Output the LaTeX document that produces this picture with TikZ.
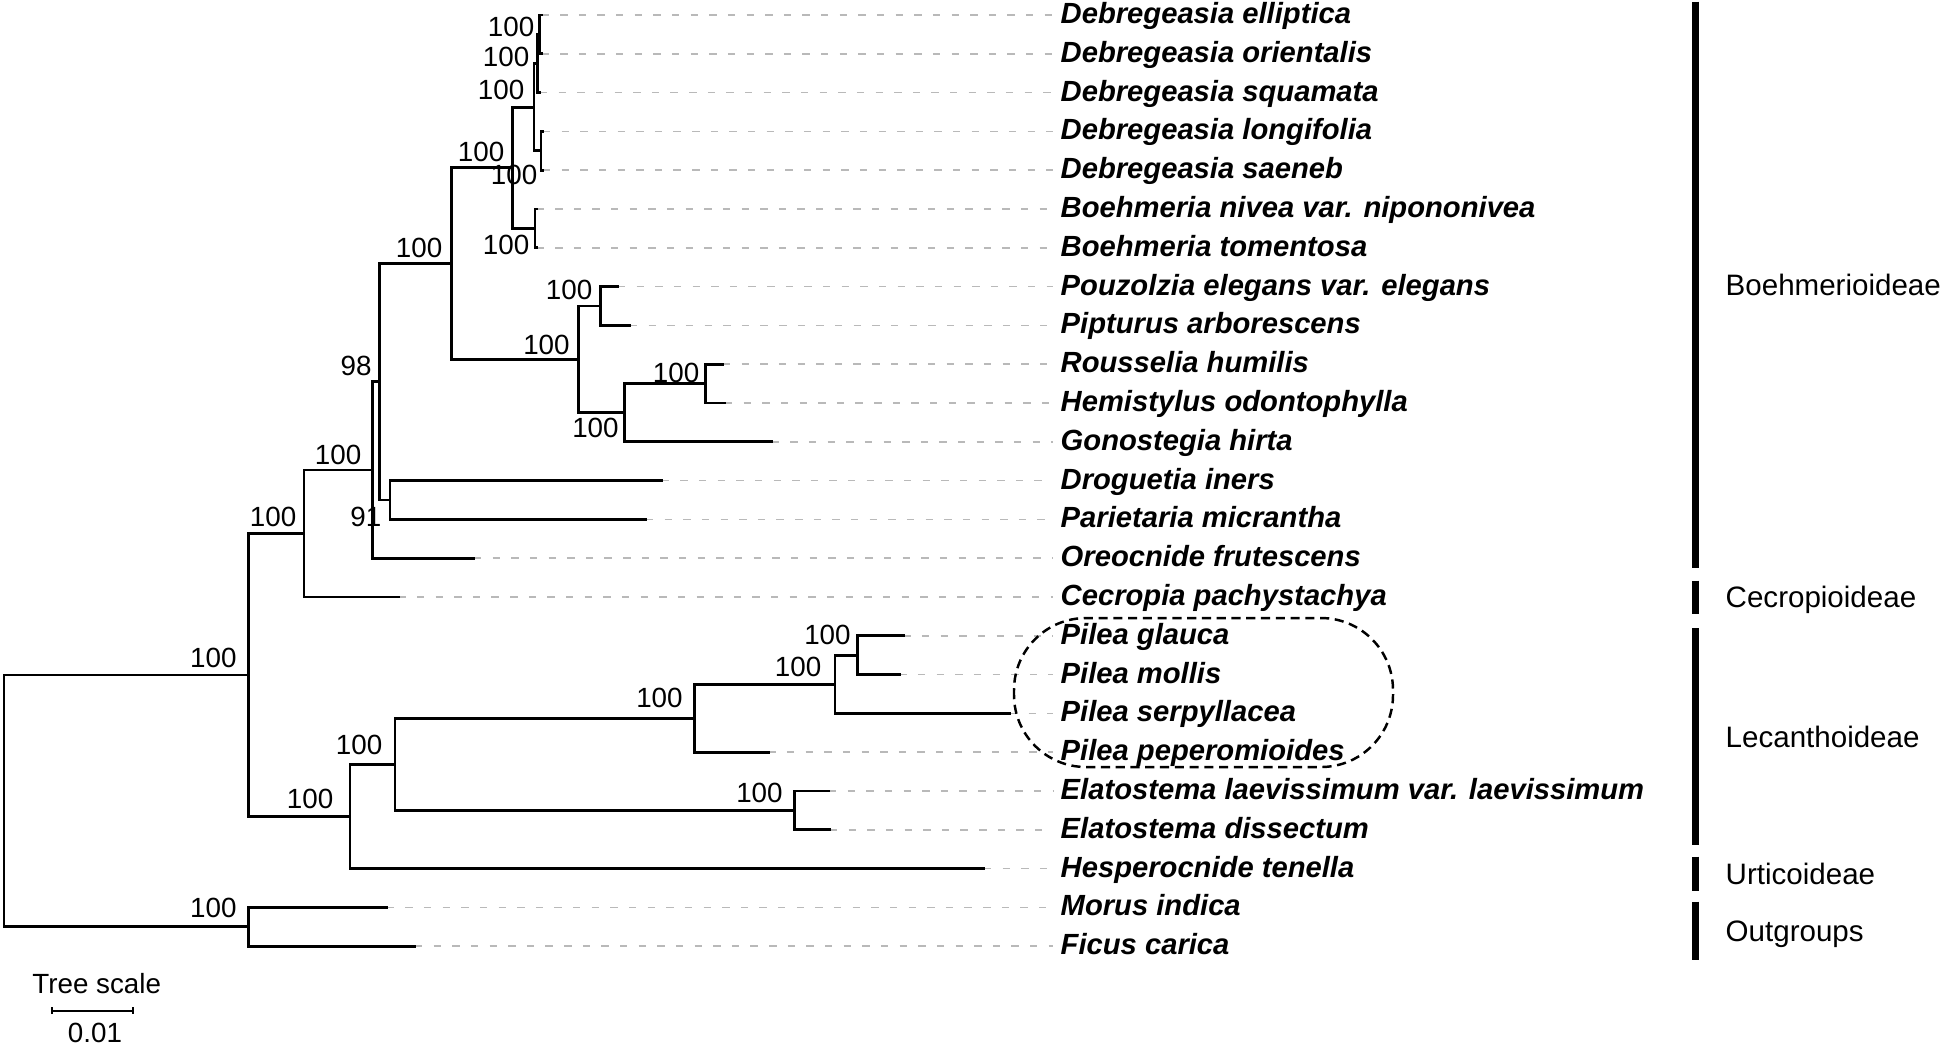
\documentclass[tikz,border=0pt]{standalone}
\usepackage{fontspec}
\setmainfont{Liberation Sans}
\usetikzlibrary{arrows.meta, calc}

\tikzset{
    branch/.style={line width=0.8pt, line cap=rect},
    guide/.style={draw=gray!55, line width=0.45pt, dash pattern=on 2.1pt off 3.2pt},
    taxon/.style={anchor=base west, inner sep=0pt, yshift=-2.4pt,
        font=\fontsize{8.3}{9}\selectfont\bfseries\itshape},
    boot/.style={anchor=east, inner sep=0pt, font=\fontsize{7.9}{9}\selectfont},
    groupbar/.style={line width=0.07cm},
    grouplabel/.style={anchor=base west, inner sep=0pt, yshift=-3pt,
        font=\fontsize{8.4}{10}\selectfont},
    pilearing/.style={line width=0.7pt, dash pattern=on 2.6pt off 1.6pt, rounded corners=0.72cm},
    scaletext/.style={inner sep=0pt, font=\fontsize{7.9}{9}\selectfont}
}

% internal node: name, x, first child, second child
\newcommand{\clade}[4]{%
    \coordinate (#1m) at ($(#3)!.5!(#4)$);
    \coordinate (#1) at (#2,0 |- #1m);
    \draw[branch] (#3) -| (#1) |- (#4);
}

\begin{document}
\begin{tikzpicture}[x=0.01cm, y=-0.01cm]
    \useasboundingbox (0,0) rectangle (1946,1047);

    % leaves
    \foreach \id/\tip/\txt [count=\i from 0] in {
        ell/541.5/Debregeasia elliptica,
        ori/541.5/Debregeasia orientalis,
        squ/540/Debregeasia squamata,
        lon/543/Debregeasia longifolia,
        sae/543/Debregeasia saeneb,
        niv/536.5/Boehmeria nivea var. nipononivea,
        tom/536.5/Boehmeria tomentosa,
        pou/618/Pouzolzia elegans var. elegans,
        pip/630/Pipturus arborescens,
        rou/723/Rousselia humilis,
        hem/725/Hemistylus odontophylla,
        gon/771.7/Gonostegia hirta,
        dro/661.7/Droguetia iners,
        par/646/Parietaria micrantha,
        ore/474/Oreocnide frutescens,
        cec/398.3/Cecropia pachystachya,
        gla/903.3/Pilea glauca,
        mol/899.3/Pilea mollis,
        ser/1010/Pilea serpyllacea,
        pep/768.3/Pilea peperomioides,
        ela/829/Elatostema laevissimum var. laevissimum,
        dis/830/Elatostema dissectum,
        hes/984/Hesperocnide tenella,
        mor/386.7/Morus indica,
        fic/415/Ficus carica}
    {
        \pgfmathsetmacro\yy{15+38.8*\i}
        \coordinate (\id) at (\tip,\yy);
        \coordinate (\id-e) at (1053,\yy);
        \node[taxon] (\id-t) at (1060,\yy) {\txt};
        \draw[guide] (\id) -- (\id-e);
    }

    % tree
    \clade{n1}{539.5}{ell}{ori}
    \clade{n2}{537.5}{n1}{squ}
    \clade{n3}{541}{lon}{sae}
    \clade{n4}{534}{n2}{n3}
    \clade{n5}{535}{niv}{tom}
    \clade{n6}{512.7}{n4}{n5}
    \clade{n7}{600.7}{pou}{pip}
    \clade{n8}{705.7}{rou}{hem}
    \clade{n9}{624.3}{n8}{gon}
    \clade{n10}{578.3}{n7}{n9}
    \clade{n11}{451.7}{n6}{n10}
    \clade{n12}{390}{dro}{par}
    \clade{n13}{379.3}{n11}{n12}
    \clade{n14}{372.7}{n13}{ore}
    \clade{n15}{304}{n14}{cec}
    \clade{n16}{857.3}{gla}{mol}
    \clade{n17}{835}{n16}{ser}
    \clade{n18}{694.3}{n17}{pep}
    \clade{n19}{794.3}{ela}{dis}
    \clade{n20}{395}{n18}{n19}
    \clade{n21}{350}{n20}{hes}
    \clade{n22}{248.3}{n15}{n21}
    \clade{n23}{248.3}{mor}{fic}
    \clade{root}{4}{n22}{n23}

    % bootstrap values
    \foreach \n/\dx/\dy/\v in {n1/-4.5/-7.4/100, n2/-7.5/-6.5/100, n3/-3/24/100,
        n4/-9/-17/100, n5/-5/17/100, n6/-7.7/-16/100, n7/-7.7/-16/100,
        n8/-5.7/-11/100, n9/-5/15/100, n10/-8/-14/100, n11/-8.7/-16/100,
        n12/-8/17/91, n13/-7/-16/98, n14/-10.7/-15/100, n15/-7/-16.5/100,
        n16/-6/-20/100, n17/-13/-17/100, n18/-11/-20/100, n19/-11/-17/100,
        n20/-12/-19/100, n21/-16/-18/100, n22/-11/-17/100, n23/-11/-19/100}
        \node[boot] (b\n) at ($(\n)+(\dx,\dy)$) {\v};

    % Pilea clade ring
    \draw[pilearing] (1014,618) rectangle (1393,767);

    % subfamilies
    \foreach \top/\bot/\txt [count=\k] in {1.7/568/Boehmerioideae,
        580.7/614/Cecropioideae, 628/845/Lecanthoideae,
        856.7/891/Urticoideae, 901.7/960/Outgroups}
    {
        \coordinate (g\k-a) at (1695,\top);
        \coordinate (g\k-b) at (1695,\bot);
        \draw[groupbar] (g\k-a) -- (g\k-b);
        \node[grouplabel] (g\k-l) at ($(g\k-a)!.5!(g\k-b)+(30,0)$) {\txt};
    }

    % scale
    \coordinate (sb-l) at (50.7,1010.7);
    \coordinate (sb-r) at (134.3,1010.7);
    \draw[line width=0.55pt, {Bar[width=2pt]}-{Bar[width=2pt]}] (sb-l) -- (sb-r);
    \node[scaletext] (sb-t) at (96.7,984) {Tree scale};
    \node[scaletext] (sb-v) at (95,1033) {0.01};
\end{tikzpicture}
\end{document}
